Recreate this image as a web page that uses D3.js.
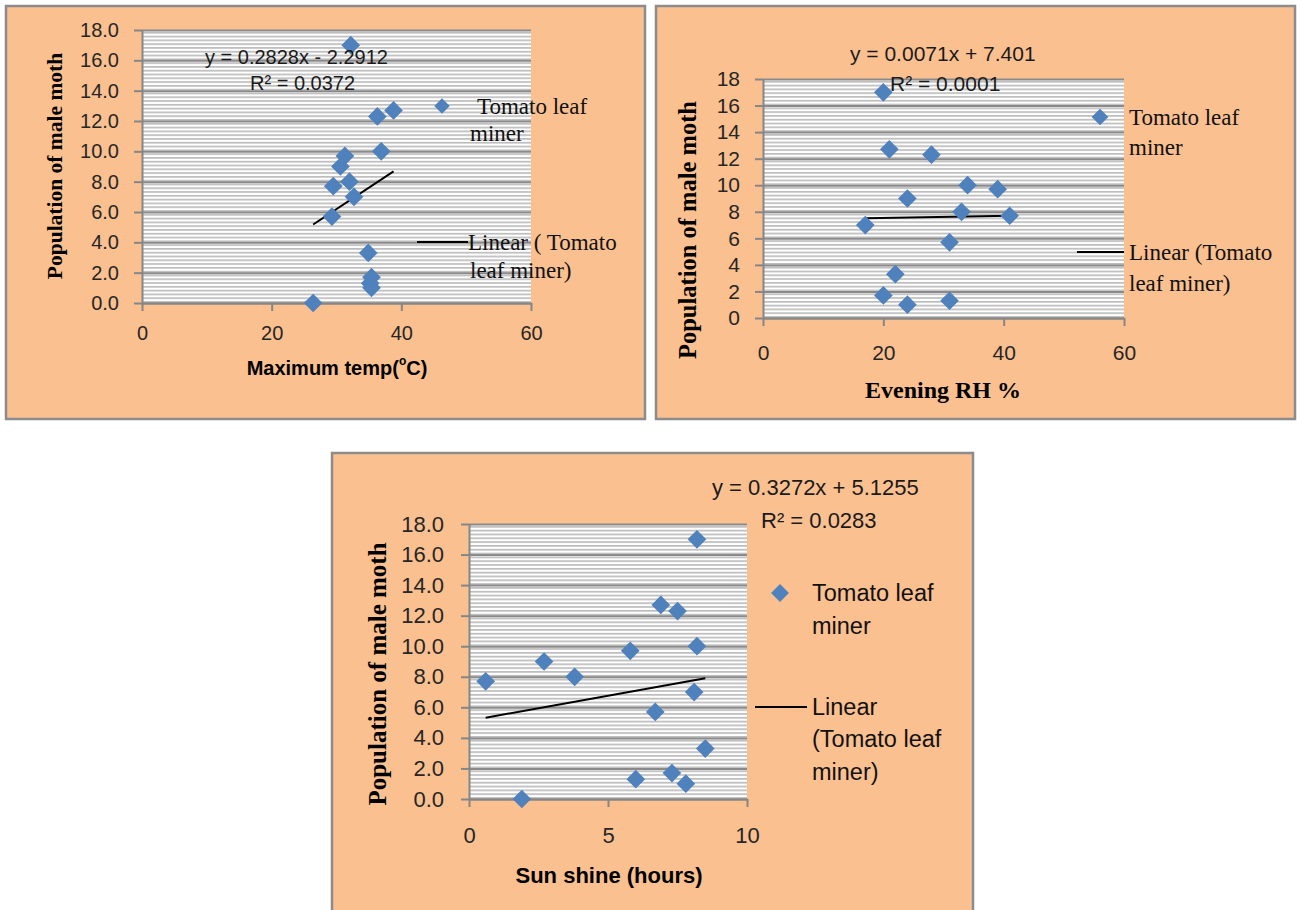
<!DOCTYPE html>
<html>
<head>
<meta charset="utf-8" />
<style>
	body { margin: 0; background: #fff; }
	.grid line { stroke: #8a8a8a; stroke-width: 2px; }
	.grid path { stroke-width: 0; }
	.ax path, .ax line { stroke: #868686; stroke-width: 2px; }
	.ax text { fill: #262626; font-family: 'Liberation Sans', Arial, sans-serif; }
</style>
</head>
<body>
<script src="https://d3js.org/d3.v7.min.js"></script>
<script>

//// Data: one row per observation ////
var population = [17.0, 12.7, 12.3, 10.0, 9.7, 9.0, 8.0, 7.7, 7.0, 5.7, 3.3, 1.7, 1.3, 1.0, 0.0];
var maxTemp    = [32.2, 38.8, 36.3, 36.9, 31.3, 30.6, 32.0, 29.5, 32.7, 29.3, 34.9, 35.4, 35.2, 35.4, 26.4];
var eveningRH  = [20, 21, 28, 34, 39, 24, 33, 41, 17, 31, 22, 20, 31, 24, null];
var sunshine   = [8.2, 6.9, 7.5, 8.2, 5.8, 2.7, 3.8, 0.6, 8.1, 6.7, 8.5, 7.3, 6.0, 7.8, 1.9];

// trend lines (Excel linear fit) as printed on the charts
var trendSlope     = [0.2828, 0.0071, 0.3272];
var trendIntercept = [-2.2912, 7.401, 5.1255];
var equations = ['y = 0.2828x - 2.2912', 'y = 0.0071x + 7.401', 'y = 0.3272x + 5.1255'];
var rSquared  = ['R\u00b2 = 0.0372', 'R\u00b2 = 0.0001', 'R\u00b2 = 0.0283'];

// ticks
var popTicks  = [0, 2, 4, 6, 8, 10, 12, 14, 16, 18];
var tempTicks = [0, 20, 40, 60];
var rhTicks   = [0, 20, 40, 60];
var sunTicks  = [0, 5, 10];

var serif = "'Liberation Serif', 'Times New Roman', serif";
var sans  = "'Liberation Sans', Arial, sans-serif";

var svg = d3.select('body').append('svg')
	.attr('width', 1297)
	.attr('height', 910);
var defs = svg.append('defs');

// layout for each of the three panels
var panels = [
	{
		xs: maxTemp, xTicks: tempTicks, yFmt: '.1f',
		box: [6, 6, 639, 413],
		plot: {left: 142, right: 531, top: 30, bottom: 303}, stripes: 8,
		tickFont: 20, yPad: 15, xPad: 15,
		eqFont: 20, eq: [205, 57], r2: [250, 83],
		yTitle: {x: 55, y: 166, size: 21.5},
		xTitle: {x: 337, y: 368, size: 20, font: sans, text: 'Maximum temp(', sup: 'o', tail: 'C)'},
		legFont: 23, legFamily: serif,
		marker: [442, 106, 120],
		lineKey: [417, 468, 242],
		legend: [['Tomato leaf', 477, 106], ['miner', 470, 133], ['Linear ( Tomato', 468, 242], ['leaf miner)', 470, 270]]
	},
	{
		xs: eveningRH, xTicks: rhTicks, yFmt: 'd',
		box: [656, 6, 639, 413],
		plot: {left: 763, right: 1124, top: 79, bottom: 318}, stripes: 7,
		tickFont: 21, yPad: 15, xPad: 19,
		eqFont: 21, eq: [850, 53], r2: [890, 83],
		yTitle: {x: 687, y: 230, size: 24.5},
		xTitle: {x: 943, y: 390, size: 24, font: serif, text: 'Evening RH %'},
		legFont: 23, legFamily: serif,
		marker: [1100, 117, 140],
		lineKey: [1077, 1124, 252],
		legend: [['Tomato leaf', 1129, 117], ['miner', 1129, 147], ['Linear (Tomato', 1129, 252], ['leaf miner)', 1129, 283]]
	},
	{
		xs: sunshine, xTicks: sunTicks, yFmt: '.1f',
		box: [332, 453, 641, 470],
		plot: {left: 469, right: 747, top: 524, bottom: 799}, stripes: 8,
		tickFont: 22, yPad: 17, xPad: 20,
		eqFont: 22, eq: [712, 487], r2: [761, 520],
		yTitle: {x: 377, y: 674, size: 25},
		xTitle: {x: 609, y: 875, size: 22, font: sans, text: 'Sun shine (hours)'},
		legFont: 23.5, legFamily: sans,
		marker: [780, 593, 160],
		lineKey: [755, 807, 707],
		legend: [['Tomato leaf', 812, 593], ['miner', 812, 626], ['Linear', 812, 707], ['(Tomato leaf', 812, 739], ['miner)', 812, 772]]
	}
];

var diamond = d3.symbol().type(d3.symbolSquare);

panels.forEach(function(p, i) {
	var g = svg.append('g');
	var pl = p.plot;

	// panel background
	g.append('rect')
		.attr('x', p.box[0]).attr('y', p.box[1])
		.attr('width', p.box[2]).attr('height', p.box[3])
		.attr('fill', '#fac090')
		.attr('stroke', '#8c8c8c')
		.attr('stroke-width', 2.5);

	var x = d3.scaleLinear().domain([p.xTicks[0], p.xTicks[p.xTicks.length - 1]]).range([pl.left, pl.right]);
	var y = d3.scaleLinear().domain([0, 18]).range([pl.bottom, pl.top]);

	// narrow horizontal stripe fill
	var h = (y(0) - y(2)) / p.stripes;
	var pat = defs.append('pattern')
		.attr('id', 'stripes' + i)
		.attr('patternUnits', 'userSpaceOnUse')
		.attr('width', 10).attr('height', h)
		.attr('patternTransform', 'translate(0,' + pl.top + ')');
	pat.append('rect').attr('width', 10).attr('height', h).attr('fill', '#fff');
	pat.append('rect').attr('y', h * 0.5).attr('width', 10).attr('height', h * 0.45).attr('fill', '#bdbdbd');

	g.append('rect')
		.attr('x', pl.left).attr('y', pl.top)
		.attr('width', pl.right - pl.left).attr('height', pl.bottom - pl.top)
		.attr('fill', 'url(#stripes' + i + ')');

	// major gridlines
	g.append('g')
		.attr('class', 'grid')
		.attr('transform', 'translate(' + pl.left + ',0)')
		.call(d3.axisLeft(y).tickValues(popTicks).tickSize(-(pl.right - pl.left)).tickFormat(''));

	// axes
	g.append('g')
		.attr('class', 'ax')
		.attr('transform', 'translate(' + pl.left + ',0)')
		.call(d3.axisLeft(y).tickValues(popTicks).tickSize(8).tickSizeOuter(0)
			.tickPadding(p.yPad).tickFormat(d3.format(p.yFmt)))
		.selectAll('text').style('font-size', p.tickFont + 'px');

	g.append('g')
		.attr('class', 'ax')
		.attr('transform', 'translate(0,' + pl.bottom + ')')
		.call(d3.axisBottom(x).tickValues(p.xTicks).tickSize(8).tickSizeOuter(0)
			.tickPadding(p.xPad).tickFormat(d3.format('d')))
		.selectAll('text').style('font-size', p.tickFont + 'px');

	// points
	var pts = p.xs.map(function(v, k) { return {x: v, y: population[k]}; })
		.filter(function(d) { return d.x !== null; });

	// trend line across the data range
	var ext = d3.extent(pts, function(d) { return d.x; });
	var fit = ext.map(function(v) { return {x: v, y: trendSlope[i] * v + trendIntercept[i]}; });
	g.append('path')
		.datum(fit)
		.attr('fill', 'none')
		.attr('stroke', '#000')
		.attr('stroke-width', 2)
		.attr('d', d3.line().x(function(d) { return x(d.x); }).y(function(d) { return y(d.y); }));

	g.selectAll('.pt')
		.data(pts)
		.enter().append('path')
		.attr('class', 'pt')
		.attr('d', diamond.size(175))
		.attr('transform', function(d) { return 'translate(' + x(d.x) + ',' + y(d.y) + ') rotate(45)'; })
		.attr('fill', '#4f81bd');

	// equation + R squared
	[[equations[i], p.eq], [rSquared[i], p.r2]].forEach(function(e) {
		g.append('text')
			.attr('x', e[1][0]).attr('y', e[1][1])
			.attr('dominant-baseline', 'central')
			.style('font-family', sans)
			.style('font-size', p.eqFont + 'px')
			.attr('fill', '#1a1a1a')
			.text(e[0]);
	});

	// axis titles
	g.append('text')
		.attr('transform', 'translate(' + p.yTitle.x + ',' + p.yTitle.y + ') rotate(-90)')
		.attr('text-anchor', 'middle')
		.attr('dominant-baseline', 'central')
		.style('font-family', serif)
		.style('font-weight', 'bold')
		.style('font-size', p.yTitle.size + 'px')
		.text('Population of male moth');

	var xt = g.append('text')
		.attr('x', p.xTitle.x).attr('y', p.xTitle.y)
		.attr('text-anchor', 'middle')
		.attr('dominant-baseline', 'central')
		.style('font-family', p.xTitle.font)
		.style('font-weight', 'bold')
		.style('font-size', p.xTitle.size + 'px');
	xt.append('tspan').text(p.xTitle.text);
	if (p.xTitle.sup) {
		xt.append('tspan').attr('dy', -7).style('font-size', (p.xTitle.size * 0.6) + 'px').text(p.xTitle.sup);
		xt.append('tspan').attr('dy', 7).text(p.xTitle.tail);
	}

	// legend
	g.append('path')
		.attr('d', diamond.size(p.marker[2]))
		.attr('transform', 'translate(' + p.marker[0] + ',' + p.marker[1] + ') rotate(45)')
		.attr('fill', '#4f81bd');
	g.append('line')
		.attr('x1', p.lineKey[0]).attr('x2', p.lineKey[1])
		.attr('y1', p.lineKey[2]).attr('y2', p.lineKey[2])
		.attr('stroke', '#000').attr('stroke-width', 2);
	p.legend.forEach(function(l) {
		g.append('text')
			.attr('x', l[1]).attr('y', l[2])
			.attr('dominant-baseline', 'central')
			.style('font-family', p.legFamily)
			.style('font-size', p.legFont + 'px')
			.attr('fill', '#111')
			.text(l[0]);
	});
});

</script>
</body>
</html>
